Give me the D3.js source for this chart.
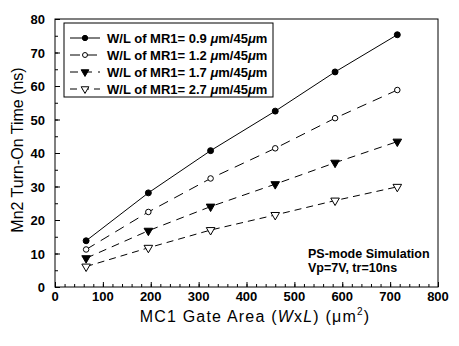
<!DOCTYPE html>
<html>
<head>
<meta charset="utf-8">
<script src="https://cdn.jsdelivr.net/npm/d3@7"></script>
<style>
  body { margin: 0; background: #fff; }
  svg { font-family: Arial, "Liberation Sans", sans-serif; }
</style>
</head>
<body>
<div id="main"></div>
<script>
// gate area (um^2) and turn-on times (ns)
var gateArea = [65, 195, 325, 460, 585, 715];
var mr1_09 = [13.8, 28.1, 40.7, 52.5, 64.2, 75.3];
var mr1_12 = [11.2, 22.4, 32.4, 41.4, 50.4, 58.8];
var mr1_17 = [8.6, 16.8, 24.0, 30.7, 37.1, 43.4];
var mr1_27 = [6.1, 11.7, 17.0, 21.5, 25.8, 29.9];
var seriesNames = ["0.9", "1.2", "1.7", "2.7"];
var xTicks = [0, 100, 200, 300, 400, 500, 600, 700, 800];
var yTicks = [0, 10, 20, 30, 40, 50, 60, 70, 80];

var W = 459, H = 346;
var margin = {top: 19, right: 21, bottom: 59, left: 55};

var svg = d3.select("#main").append("svg")
  .attr("width", W).attr("height", H);

var x = d3.scaleLinear().domain([0, 800]).range([margin.left, W - margin.right]);
var y = d3.scaleLinear().domain([0, 80]).range([H - margin.bottom, margin.top]);

// frame
svg.append("rect")
  .attr("x", x(0)).attr("y", y(80))
  .attr("width", x(800) - x(0)).attr("height", y(0) - y(80))
  .attr("fill", "none").attr("stroke", "#000").attr("stroke-width", 1);

// ticks (inside)
var xAxis = svg.append("g").attr("transform", "translate(0," + y(0) + ")");
xAxis.call(d3.axisTop(x).tickValues(d3.range(0, 801, 20)).tickSize(3).tickFormat(""));
xAxis.append("g").call(d3.axisTop(x).tickValues(xTicks).tickSize(5).tickFormat(""));
xAxis.selectAll(".domain").remove();
xAxis.selectAll("line").attr("stroke", "#000");

var yAxis = svg.append("g").attr("transform", "translate(" + x(0) + ",0)");
yAxis.call(d3.axisRight(y).tickValues(d3.range(0, 81, 5)).tickSize(3).tickFormat(""));
yAxis.append("g").call(d3.axisRight(y).tickValues(yTicks).tickSize(5).tickFormat(""));
yAxis.selectAll(".domain").remove();
yAxis.selectAll("line").attr("stroke", "#000");

// tick labels
svg.selectAll(".xl").data(xTicks).enter().append("text")
  .attr("x", function (d) { return x(d); })
  .attr("y", y(0) + 14)
  .attr("text-anchor", "middle")
  .style("font-size", "13px").style("font-weight", "bold")
  .text(function (d) { return d; });

svg.selectAll(".yl").data(yTicks).enter().append("text")
  .attr("x", x(0) - 10)
  .attr("y", function (d) { return y(d) + 5; })
  .attr("text-anchor", "end")
  .style("font-size", "13px").style("font-weight", "bold")
  .text(function (d) { return d; });

// axis titles
var xt = svg.append("text")
  .attr("x", 255).attr("y", 322)
  .attr("text-anchor", "middle")
  .style("font-size", "16px").style("letter-spacing", "1.2px");
xt.append("tspan").text("MC1 Gate Area (");
xt.append("tspan").style("font-style", "italic").text("W");
xt.append("tspan").text("x");
xt.append("tspan").style("font-style", "italic").text("L");
xt.append("tspan").text(")  (\u03bcm");
xt.append("tspan").attr("dy", -7).style("font-size", "10px").text("2");
xt.append("tspan").attr("dy", 7).text(")");

svg.append("text")
  .attr("transform", "translate(23,150) rotate(-90)")
  .attr("text-anchor", "middle")
  .style("font-size", "16px")
  .text("Mn2 Turn-On Time (ns)");

// series
var allSeries = [mr1_09, mr1_12, mr1_17, mr1_27];
var dashes = [null, "10,7", "8,6", "7,5"];
var sym = [
  {type: d3.symbolCircle, size: 28, fill: "#000"},
  {type: d3.symbolCircle, size: 24, fill: "#fff"},
  {type: d3.symbolTriangle, size: 32, fill: "#000"},
  {type: d3.symbolTriangle, size: 32, fill: "#fff"}
];

var line = d3.line()
  .x(function (d) { return x(d[0]); })
  .y(function (d) { return y(d[1]); });

allSeries.forEach(function (vals, i) {
  var pts = gateArea.map(function (g, j) { return [g, vals[j]]; });
  svg.append("path")
    .datum(pts)
    .attr("d", line)
    .attr("fill", "none").attr("stroke", "#000").attr("stroke-width", 1)
    .attr("stroke-dasharray", dashes[i]);
  svg.selectAll(".p" + i).data(pts).enter().append("path")
    .attr("d", d3.symbol().type(sym[i].type).size(sym[i].size))
    .attr("transform", function (d) {
      return "translate(" + x(d[0]) + "," + y(d[1]) + ")" + (i >= 2 ? " rotate(180)" : "");
    })
    .attr("fill", sym[i].fill).attr("stroke", "#000").attr("stroke-width", 1);
});

// legend
var lg = svg.append("g");
lg.append("rect").attr("x", 64).attr("y", 23).attr("width", 209).attr("height", 74)
  .attr("fill", "#fff").attr("stroke", "#000").attr("stroke-width", 1);
seriesNames.forEach(function (nm, i) {
  var ry = 38 + i * 17;
  lg.append("line").attr("x1", 70).attr("x2", 100).attr("y1", ry).attr("y2", ry)
    .attr("stroke", "#000").attr("stroke-dasharray", dashes[i]);
  lg.append("path")
    .attr("d", d3.symbol().type(sym[i].type).size(sym[i].size * 0.8))
    .attr("transform", "translate(85," + ry + ")" + (i >= 2 ? " rotate(180)" : ""))
    .attr("fill", sym[i].fill).attr("stroke", "#000");
  var t = lg.append("text").attr("x", 107).attr("y", ry + 5)
    .style("font-size", "13px").style("font-weight", "bold");
  t.append("tspan").text("W/L of MR1= " + nm + " ");
  t.append("tspan").style("font-style", "italic").text("\u03bc");
  t.append("tspan").text("m/45");
  t.append("tspan").style("font-style", "italic").text("\u03bc");
  t.append("tspan").text("m");
});

// annotation
svg.append("text").attr("x", 308).attr("y", 258)
  .style("font-size", "12.5px").style("font-weight", "bold")
  .text("PS-mode Simulation");
svg.append("text").attr("x", 308).attr("y", 272)
  .style("font-size", "12.5px").style("font-weight", "bold")
  .text("Vp=7V, tr=10ns");
</script>
</body>
</html>
